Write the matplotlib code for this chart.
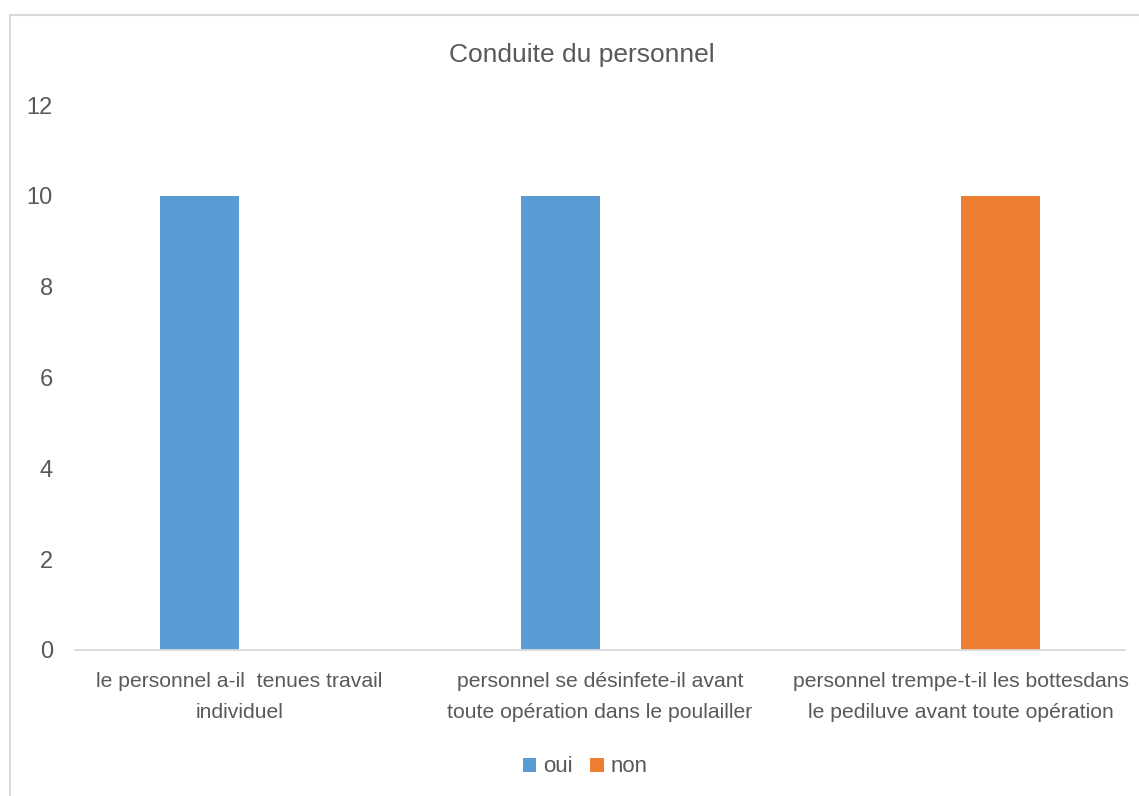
# %%
# Imports
from matplotlib import pyplot as plt
from matplotlib.patches import Rectangle
import numpy as np

# Data
categories = [
    "le personnel a-il  tenues travail\nindividuel",
    "personnel se désinfete-il avant\ntoute opération dans le poulailler",
    "personnel trempe-t-il les bottesdans\nle pediluve avant toute opération",
]
oui = [10, 10, 0]
non = [0, 0, 10]
yticks = [0, 2, 4, 6, 8, 10, 12]

plt.rcParams["font.family"] = ["Liberation Sans", "DejaVu Sans"]

# %%
# Plot
fig = plt.figure(figsize=(11.39, 7.96), dpi=100)
ax = fig.add_axes([75 / 1139, 146 / 796, 1050 / 1139, 545 / 796])

x = np.arange(len(categories))
w = 0.219
ax.bar(x - w / 2, oui, width=w, color="#5B9BD5", label="oui")
ax.bar(x + w / 2, non, width=w, color="#ED7D31", label="non")

ax.set_xlim(-0.456, len(categories) - 1 + 0.456)
ax.set_ylim(0, 12)
ax.set_yticks(yticks)
ax.set_xticks(x)
ax.set_xticklabels(categories, fontsize=15.2, color="#595959", linespacing=1.8)
ax.tick_params(axis="y", labelsize=17, labelcolor="#595959", length=0, pad=16)
ax.tick_params(axis="x", length=0, pad=16)

for s in ["top", "right", "left"]:
    ax.spines[s].set_visible(False)
ax.spines["bottom"].set_color("#D9D9D9")
ax.spines["bottom"].set_linewidth(1.3)

fig.text(582 / 1139, 1 - 55 / 796, "Conduite du personnel", ha="center", va="center",
         fontsize=19, color="#595959")

fig.legend(loc="center", bbox_to_anchor=(585 / 1139, 1 - 767 / 796), ncol=2, frameon=False,
           fontsize=16, labelcolor="#595959", handlelength=0.6, handleheight=0.6,
           handletextpad=0.3, columnspacing=0.8)

# chart border
fig.patches.append(Rectangle((10 / 1139, -0.1), 1.2, 1.1 - 15 / 796, transform=fig.transFigure,
                             fill=False, edgecolor="#D9D9D9", linewidth=1.5))

plt.savefig("out.png")
